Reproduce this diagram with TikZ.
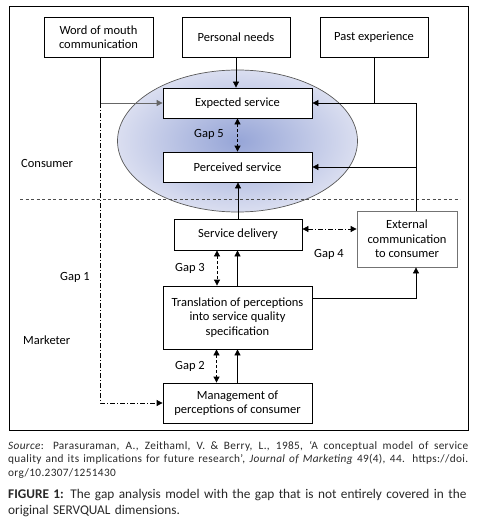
\documentclass[tikz,border=0pt]{standalone}
\usepackage{fontspec}
\setmainfont{Carlito}
\newfontfamily\srcfont{Carlito}[LetterSpace=3]
\usetikzlibrary{arrows.meta,calc}
\definecolor{ellin}{RGB}{150,165,215}
\definecolor{ellout}{RGB}{218,222,240}
\definecolor{captxt}{RGB}{40,40,40}
\tikzset{
  box/.style={draw,line width=0.8pt,fill=white,align=center,inner sep=1pt,font=\fontsize{12.5}{14.5}\selectfont},
  lbl/.style={font=\fontsize{12.5}{14.5}\selectfont,inner sep=0pt},
  conn/.style={line width=0.8pt},
  arr/.style={-{Triangle[length=6pt,width=6pt]}},
  darr/.style={{Triangle[length=6pt,width=6pt]}-{Triangle[length=6pt,width=6pt]}},
  gapline/.style={dash pattern=on 3pt off 2pt},
  dashdot/.style={dash pattern=on 5pt off 2pt on 1pt off 2pt},
}
\begin{document}
\begin{tikzpicture}[x=1pt,y=-1pt]
\useasboundingbox (0,0) rectangle (482,532);
\draw[line width=0.9pt] (9,6) rectangle (468,430);
% ellipse
\shade[inner color=ellin,outer color=ellout,draw=black!65,line width=0.7pt] (237.5,141) ellipse [x radius=120,y radius=71];
% separator
\draw[dash pattern=on 3pt off 2.5pt,black!70,line width=0.8pt] (20,199) -- (460,199);
% boxes
\node[box,minimum width=109pt,minimum height=40pt] (wom) at (98.5,37) {Word of mouth\\communication};
\node[box,minimum width=108pt,minimum height=40pt] (pn) at (236,37) {Personal needs};
\node[box,minimum width=108pt,minimum height=40pt] (pe) at (374,37) {Past experience};
\node[box,minimum width=149pt,minimum height=30pt] (exp) at (237.5,103) {Expected service};
\node[box,minimum width=149pt,minimum height=30pt] (per) at (237.5,167) {Perceived service};
\node[box,minimum width=128pt,minimum height=31pt] (sd) at (238,234.5) {Service delivery};
\node[box,draw=black!55,minimum width=100pt,minimum height=56pt] (ext) at (407,239) {External\\communication\\to consumer};
\node[box,minimum width=149pt,minimum height=63pt] (tr) at (237.5,317.5) {Translation of perceptions\\into service quality\\specification};
\node[box,minimum width=149pt,minimum height=40pt] (mg) at (237.5,403) {Management of\\perceptions of consumer};
% labels
\node[lbl] (g5) at (209,134) {Gap 5};
\node[lbl] (g3) at (190,268) {Gap 3};
\node[lbl] (g2) at (190,366) {Gap 2};
\node[lbl] (g4) at (329,254) {Gap 4};
\node[lbl] (g1) at (75,277) {Gap 1};
\node[lbl,anchor=west] (cons) at (21,163) {Consumer};
\node[lbl,anchor=west] (mark) at (23,340) {Marketer};
% connectors
\draw[conn,arr] (pn.south) -- (pn.south |- exp.north);
\coordinate (j1) at ($(wom.south |- exp.west)+(1.5,0)$);
\draw[conn] ($(wom.south)+(1.5,0)$) -- (j1);
\draw[conn,arr,black!60] (j1) -- (exp.west);
\draw[conn,dashdot,arr] (j1) |- (mg.west);
\draw[conn] (pe.south) -- (pe.south |- exp.east);
\path (ext.north) ++(9,0) coordinate (er);
\draw[conn,arr] (er) |- (exp.east);
\draw[conn,arr] (er |- per.east) -- (per.east);
\draw[conn,arr] ([yshift=19.5]tr.east) -| (er |- ext.south);
\draw[conn,arr] (sd.north) -- (sd.north |- per.south);
\draw[conn,arr] (tr.north) -- (tr.north |- sd.south);
\draw[conn,arr] (mg.north) -- (mg.north |- tr.south);
\draw[conn,gapline,darr] (exp.south) -- (per.north);
\draw[conn,gapline,darr] ([xshift=-21]sd.south) -- ([xshift=-21]sd.south |- tr.north);
\draw[conn,gapline,darr] ([xshift=-21]tr.south) -- ([xshift=-21]tr.south |- mg.north);
\draw[conn,dashdot,darr] ([yshift=5.5]sd.east) -- ([yshift=5.5]sd.east -| ext.west);
% caption
\node[anchor=north west,inner sep=0pt,text width=460pt,align=justify,text=captxt,font=\srcfont\fontsize{11.3}{13.5}\selectfont] (src) at (8,441)
{\textit{Source}: Parasuraman, A., Zeithaml, V. \& Berry, L., 1985, ‘A conceptual model of service\linebreak quality and its implications for future research’, \textit{Journal of Marketing} 49(4), 44. https://doi.\linebreak org/10.2307/1251430};
\node[anchor=north west,inner sep=0pt,text width=460pt,align=left,text=captxt,font=\fontsize{13.3}{16.5}\selectfont] (cap) at (8,489)
{\textbf{FIGURE 1:} The gap analysis model with the gap that is not entirely covered in the original SERVQUAL dimensions.};
\end{tikzpicture}
\end{document}
